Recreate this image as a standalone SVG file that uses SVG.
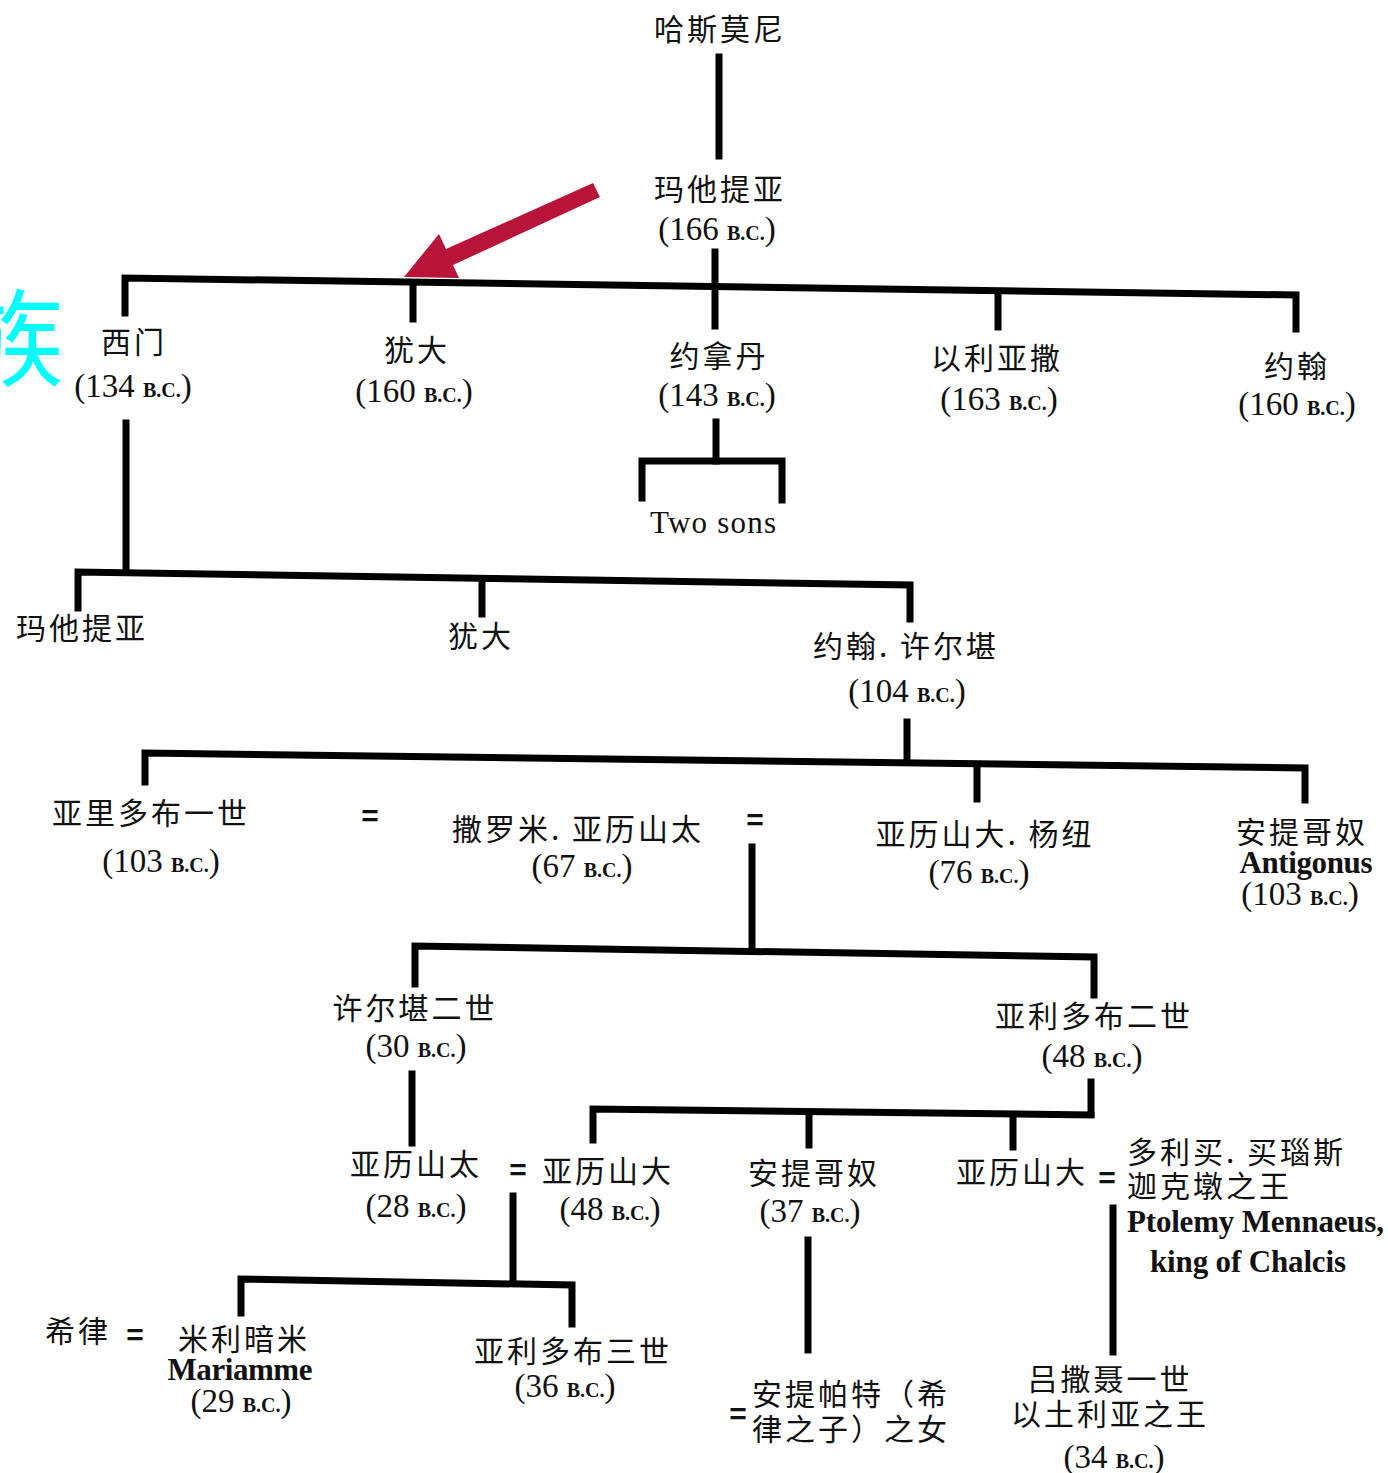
<svg xmlns="http://www.w3.org/2000/svg" width="1388" height="1473" viewBox="0 0 1388 1473">
<style>
.zh{font-family:"Noto Sans CJK SC","Noto Sans",sans-serif;font-size:30px;letter-spacing:3px;fill:#111;text-anchor:middle}
.zl{text-anchor:start}
.dt{font-family:"Liberation Serif","Times New Roman",serif;font-size:33px;fill:#111;text-anchor:middle}
.bc{font-size:20px;font-weight:bold}
.en{font-family:"Liberation Serif","Times New Roman",serif;font-size:31px;fill:#111;text-anchor:middle}
.el{text-anchor:start}
.eq{font-family:"Liberation Sans",Arial,sans-serif;font-size:30px;font-weight:bold;fill:#111;text-anchor:middle}
.ln{stroke:#000;stroke-width:7;fill:none;stroke-linecap:square;stroke-linejoin:miter}
</style>
<rect width="1388" height="1473" fill="#fff"/>
<text x="-42" y="378" font-family="Noto Sans CJK SC, sans-serif" font-size="106" fill="#00FFFF">族</text>
<g id="connectors">
<path class="ln" d="M719 57V156"/>
<path class="ln" d="M715 252V326"/>
<path class="ln" d="M125 313V278L1296 295V329"/>
<path class="ln" d="M413 283V319"/>
<path class="ln" d="M998 292V327"/>
<path class="ln" d="M716 422V461"/>
<path class="ln" d="M642 498V461H782V500"/>
<path class="ln" d="M126 423V572"/>
<path class="ln" d="M78 608V572L910 585V619"/>
<path class="ln" d="M482 579V614"/>
<path class="ln" d="M907 722V762"/>
<path class="ln" d="M145 782V753L1305 768V800"/>
<path class="ln" d="M977 766V799"/>
<path class="ln" d="M752 847V946"/>
<path class="ln" d="M415 984V946L1094 957V995"/>
<path class="ln" d="M412 1074V1143"/>
<path class="ln" d="M1091 1082V1114"/>
<path class="ln" d="M593 1140V1109L1091 1115"/>
<path class="ln" d="M809 1113V1145"/>
<path class="ln" d="M1013 1115V1147"/>
<path class="ln" d="M513 1196V1282"/>
<path class="ln" d="M241 1313V1279L572 1285V1324"/>
<path class="ln" d="M808 1240V1350"/>
<path class="ln" d="M1113 1208V1352"/>
<polygon points="593,183 600,197 453,265 459,278 404,277 439,234 446,249" fill="#B8143A"/>
</g>
<g id="n-hasmon"><text class="zh" x="720" y="40">哈斯莫尼</text></g>
<g id="n-mattathias"><text class="zh" x="720" y="200">玛他提亚</text><text class="dt" x="717" y="240">(166 <tspan class="bc">B.C.</tspan>)</text></g>
<g id="n-simon"><text class="zh" x="134" y="353">西门</text><text class="dt" x="133" y="397">(134 <tspan class="bc">B.C.</tspan>)</text></g>
<g id="n-judas"><text class="zh" x="417" y="361">犹大</text><text class="dt" x="414" y="402">(160 <tspan class="bc">B.C.</tspan>)</text></g>
<g id="n-jonathan"><text class="zh" x="719" y="367">约拿丹</text><text class="dt" x="717" y="406">(143 <tspan class="bc">B.C.</tspan>)</text></g>
<g id="n-eleazar"><text class="zh" x="997" y="369">以利亚撒</text><text class="dt" x="999" y="410">(163 <tspan class="bc">B.C.</tspan>)</text></g>
<g id="n-john"><text class="zh" x="1297" y="377">约翰</text><text class="dt" x="1297" y="415">(160 <tspan class="bc">B.C.</tspan>)</text></g>
<g id="n-twosons"><text class="en" x="713" y="533" textLength="126">Two sons</text></g>
<g id="n-mattathias2"><text class="zh" x="82" y="639">玛他提亚</text></g>
<g id="n-judas2"><text class="zh" x="481" y="647">犹大</text></g>
<g id="n-hyrcanus"><text class="zh" x="906" y="657">约翰. 许尔堪</text><text class="dt" x="907" y="702">(104 <tspan class="bc">B.C.</tspan>)</text></g>
<g id="n-aristobulus1"><text class="zh" x="151" y="824">亚里多布一世</text><text class="dt" x="161" y="872">(103 <tspan class="bc">B.C.</tspan>)</text></g>
<g id="eq1"><text class="eq" x="370" y="826">=</text></g>
<g id="n-salome"><text class="zh" x="578" y="840">撒罗米. 亚历山太</text><text class="dt" x="582" y="877">(67 <tspan class="bc">B.C.</tspan>)</text></g>
<g id="eq2"><text class="eq" x="755" y="830">=</text></g>
<g id="n-jannaeus"><text class="zh" x="985" y="845">亚历山大. 杨纽</text><text class="dt" x="979" y="883">(76 <tspan class="bc">B.C.</tspan>)</text></g>
<g id="n-antigonus1"><text class="zh" x="1302" y="843">安提哥奴</text><text class="en" x="1306" y="873" font-weight="bold" textLength="133">Antigonus</text><text class="dt" x="1300" y="905">(103 <tspan class="bc">B.C.</tspan>)</text></g>
<g id="n-hyrcanus2"><text class="zh" x="415" y="1019">许尔堪二世</text><text class="dt" x="416" y="1057">(30 <tspan class="bc">B.C.</tspan>)</text></g>
<g id="n-aristobulus2"><text class="zh" x="1094" y="1027">亚利多布二世</text><text class="dt" x="1092" y="1067">(48 <tspan class="bc">B.C.</tspan>)</text></g>
<g id="n-alexandra"><text class="zh" x="416" y="1175">亚历山太</text><text class="dt" x="416" y="1217">(28 <tspan class="bc">B.C.</tspan>)</text></g>
<g id="eq3"><text class="eq" x="518" y="1180">=</text></g>
<g id="n-alexander48"><text class="zh" x="608" y="1182">亚历山大</text><text class="dt" x="610" y="1220">(48 <tspan class="bc">B.C.</tspan>)</text></g>
<g id="n-antigonus37"><text class="zh" x="814" y="1184">安提哥奴</text><text class="dt" x="810" y="1222">(37 <tspan class="bc">B.C.</tspan>)</text></g>
<g id="n-alexander"><text class="zh" x="1022" y="1183">亚历山大</text></g>
<g id="eq4"><text class="eq" x="1107" y="1188">=</text></g>
<g id="n-ptolemy"><text class="zh zl" x="1127" y="1163">多利买. 买瑙斯</text><text class="zh zl" x="1127" y="1197">迦克墩之王</text><text class="en el" x="1127" y="1232" font-weight="bold" textLength="257">Ptolemy Mennaeus,</text><text class="en" x="1248" y="1272" font-weight="bold" textLength="196">king of Chalcis</text></g>
<g id="n-herod"><text class="zh zl" x="45" y="1342">希律</text></g>
<g id="eq5"><text class="eq" x="135" y="1345">=</text></g>
<g id="n-mariamme"><text class="zh" x="244" y="1350">米利暗米</text><text class="en" x="240" y="1380" font-weight="bold" textLength="145">Mariamme</text><text class="dt" x="241" y="1412">(29 <tspan class="bc">B.C.</tspan>)</text></g>
<g id="n-aristobulus3"><text class="zh" x="573" y="1362">亚利多布三世</text><text class="dt" x="565" y="1397">(36 <tspan class="bc">B.C.</tspan>)</text></g>
<g id="n-antipater"><text class="eq" x="738" y="1424" font-size="24">=</text><text class="zh zl" x="752" y="1405">安提帕特（希</text><text class="zh zl" x="752" y="1440">律之子）之女</text></g>
<g id="n-lysanias"><text class="zh" x="1110" y="1390">吕撒聂一世</text><text class="zh" x="1110" y="1425">以土利亚之王</text><text class="dt" x="1114" y="1468">(34 <tspan class="bc">B.C.</tspan>)</text></g>
</svg>
